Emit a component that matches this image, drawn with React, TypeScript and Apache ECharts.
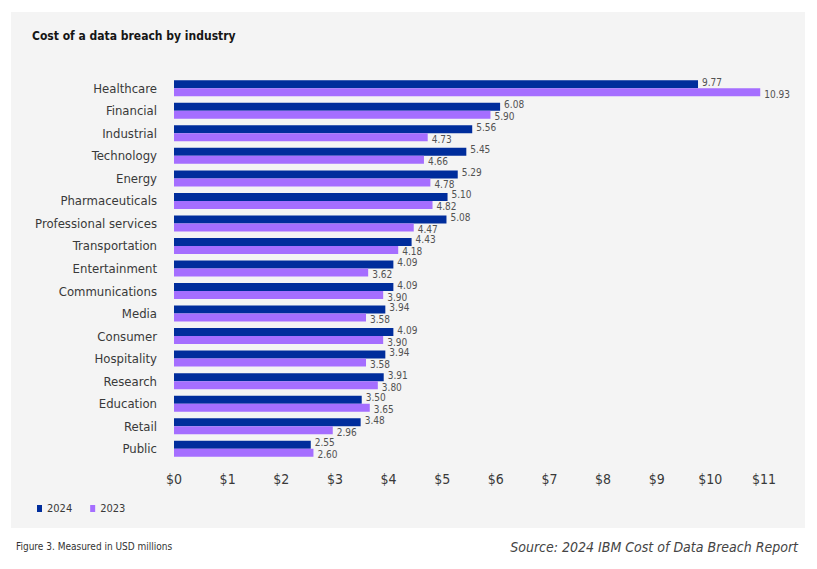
import React, { useEffect, useRef } from "react";
import * as echarts from "echarts";

const categories = [
  "Healthcare", "Financial", "Industrial", "Technology", "Energy", "Pharmaceuticals",
  "Professional services", "Transportation", "Entertainment", "Communications", "Media",
  "Consumer", "Hospitality", "Research", "Education", "Retail", "Public",
];
const values2024 = [9.77, 6.08, 5.56, 5.45, 5.29, 5.10, 5.08, 4.43, 4.09, 4.09, 3.94, 4.09, 3.94, 3.91, 3.50, 3.48, 2.55];
const values2023 = [10.93, 5.90, 4.73, 4.66, 4.78, 4.82, 4.47, 4.18, 3.62, 3.90, 3.58, 3.90, 3.58, 3.80, 3.65, 2.96, 2.60];
const seriesNames = ["2024", "2023"];
const tickMax = 11;

const FONT = "'DejaVu Sans Condensed', sans-serif";

export default function App() {
  const ref = useRef<HTMLDivElement>(null);
  useEffect(() => {
    if (!ref.current) return;
    const chart = echarts.init(ref.current, null, { renderer: "svg" });
    const labelBase = {
      show: true,
      position: "right",
      distance: 4,
      fontSize: 10,
      color: "#525252",
      fontFamily: FONT,
      formatter: (p: any) => Number(p.value).toFixed(2),
    };
    chart.setOption({
      animation: false,
      backgroundColor: "#ffffff",
      textStyle: { fontFamily: FONT },
      graphic: [
        { type: "rect", z: -10, shape: { x: 11, y: 12, width: 794, height: 516 }, style: { fill: "#f4f4f4" } },
        { type: "text", left: 16, top: 541, style: { text: "Figure 3. Measured in USD millions", fontSize: 10, fill: "#333333", fontFamily: FONT } },
        { type: "text", right: 19, top: 540, style: { text: "Source: 2024 IBM Cost of Data Breach Report", fontSize: 14, fontStyle: "italic", fill: "#444444", fontFamily: FONT } },
      ],
      title: {
        text: "Cost of a data breach by industry",
        left: 27,
        top: 25,
        textStyle: { fontSize: 12, fontWeight: "bold", color: "#161616", fontFamily: FONT },
      },
      legend: {
        left: 32,
        top: 498,
        itemWidth: 5,
        itemHeight: 7,
        itemGap: 18,
        icon: "rect",
        textStyle: { fontSize: 11, color: "#393939", fontFamily: FONT },
        data: seriesNames,
      },
      grid: { left: 174, right: 53, top: 77, bottom: 109, containLabel: false },
      xAxis: {
        type: "value",
        min: 0,
        max: tickMax,
        interval: 1,
        axisLine: { show: false },
        axisTick: { show: false },
        splitLine: { show: false },
        axisLabel: { formatter: (v: number) => "$" + v, fontSize: 14, color: "#393939", margin: 12, fontFamily: FONT },
      },
      yAxis: {
        type: "category",
        inverse: true,
        data: categories,
        axisLine: { show: false },
        axisTick: { show: false },
        axisLabel: { fontSize: 13, color: "#393939", margin: 17, fontFamily: FONT },
      },
      series: [
        {
          name: seriesNames[0],
          type: "bar",
          data: values2024,
          itemStyle: { color: "#002d9c" },
          barWidth: 8,
          barGap: "0%",
          label: { ...labelBase, offset: [0, -2] },
        },
        {
          name: seriesNames[1],
          type: "bar",
          data: values2023,
          itemStyle: { color: "#a56eff" },
          barWidth: 8,
          barGap: "0%",
          label: { ...labelBase, offset: [0, 2] },
        },
      ],
    });
    return () => chart.dispose();
  }, []);
  return <div ref={ref} style={{ width: 817, height: 569, position: "absolute", left: 0, top: 0 }} />;
}
